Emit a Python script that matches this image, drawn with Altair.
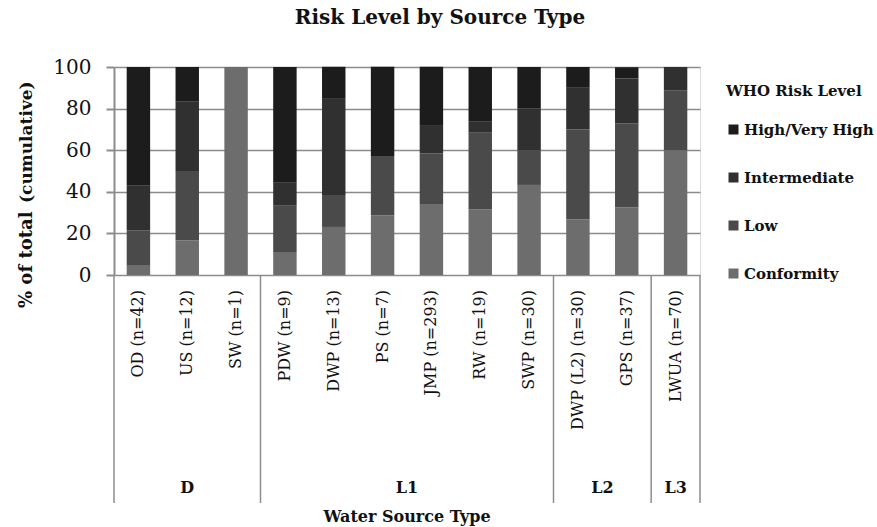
import altair as alt
import pandas as pd

# ---------------- data ----------------
sources = ["OD (n=42)", "US (n=12)", "SW (n=1)", "PDW (n=9)", "DWP (n=13)", "PS (n=7)",
           "JMP (n=293)", "RW (n=19)", "SWP (n=30)", "DWP (L2) (n=30)", "GPS (n=37)",
           "LWUA (n=70)"]
levels = ["High/Very High", "Intermediate", "Low", "Conformity"]
conformity = [4.8, 16.7, 100.0, 11.1, 23.1, 28.6, 33.8, 31.6, 43.3, 26.7, 32.4, 60.0]
low = [16.7, 33.3, 0.0, 22.2, 15.4, 28.6, 24.6, 36.8, 16.7, 43.3, 40.5, 28.6]
intermediate = [21.4, 33.3, 0.0, 11.1, 46.2, 0.0, 13.7, 5.3, 20.0, 20.0, 21.6, 11.4]
high = [57.1, 16.7, 0.0, 55.6, 15.4, 42.9, 28.0, 26.3, 20.0, 10.0, 5.4, 0.0]
groups = ["D", "L1", "L2", "L3"]
group_sizes = [3, 6, 2, 1]
y_ticks = [0, 20, 40, 60, 80, 100]

colors = ["#1c1c1c", "#303030", "#4a4a4a", "#6d6d6d"]
FONT = "DejaVu Serif"
GRAY = "#8c8c8c"

# ---------------- tables ----------------
series = {"Conformity": conformity, "Low": low, "Intermediate": intermediate,
          "High/Very High": high}
rank = {"Conformity": 0, "Low": 1, "Intermediate": 2, "High/Very High": 3}
rows = []
for lvl, vals in series.items():
    for i, (s, v) in enumerate(zip(sources, vals)):
        rows.append({"idx": i, "source": s, "level": lvl, "value": v, "rank": rank[lvl]})
df = pd.DataFrame(rows)

cats = pd.DataFrame({"idx": list(range(len(sources))), "source": sources})

starts, acc = [], 0
for g in group_sizes:
    starts.append(acc)
    acc += g
grp = pd.DataFrame({"group": groups, "start": starts, "size": group_sizes})
bounds = pd.DataFrame({"b": starts + [acc]})

xscale = alt.Scale(domain=[0, len(sources)], nice=False, zero=False)

bars = alt.Chart(df).transform_stack(
    stack="value", groupby=["idx"], as_=["y0", "y1"],
    sort=[alt.SortField("rank", order="ascending")]
).transform_calculate(
    x0="datum.idx + 0.26", x1="datum.idx + 0.74"
).mark_bar(strokeWidth=0).encode(
    x=alt.X("x0:Q", scale=xscale, axis=None),
    x2="x1:Q",
    y=alt.Y("y1:Q", scale=alt.Scale(domain=[0, 100], nice=False),
            axis=alt.Axis(values=y_ticks, title=None, grid=True, gridColor=GRAY,
                          gridWidth=1.5, domain=True, domainColor=GRAY, domainWidth=2,
                          ticks=True, tickColor=GRAY, tickWidth=2, tickSize=8,
                          labelFont=FONT, labelFontSize=20, labelColor="#111",
                          labelPadding=15)),
    y2="y0:Q",
    color=alt.Color("level:N", scale=alt.Scale(domain=levels, range=colors),
                    legend=alt.Legend(title="WHO Risk Level", orient="none",
                                      legendX=612, legendY=17,
                                      titleFont=FONT, titleFontSize=15,
                                      titleFontWeight="bold", titleColor="#111",
                                      titlePadding=23, labelFont=FONT,
                                      labelFontSize=15, labelFontWeight="bold",
                                      labelColor="#111", symbolType="square",
                                      symbolSize=100, symbolStrokeWidth=0,
                                      rowPadding=32, labelOffset=3)),
)

seps = alt.Chart(bounds).mark_rule(color=GRAY, strokeWidth=1.5).encode(
    x=alt.X("b:Q", scale=xscale), y=alt.value(208), y2=alt.value(436)
)

cat_labels = alt.Chart(cats).transform_calculate(c="datum.idx + 0.5").mark_text(
    angle=270, align="right", baseline="middle", font=FONT, fontSize=16,
    color="#111"
).encode(x=alt.X("c:Q", scale=xscale), y=alt.value(223), text="source:N")

grp_labels = alt.Chart(grp).transform_calculate(
    m="datum.start + datum.size / 2"
).mark_text(font=FONT, fontSize=16, fontWeight="bold", color="#111",
            baseline="middle").encode(
    x=alt.X("m:Q", scale=xscale), y=alt.value(421), text="group:N"
)

x_title = alt.Chart(pd.DataFrame({"t": ["Water Source Type"]})).mark_text(
    font=FONT, fontSize=16, fontWeight="bold", color="#111", baseline="middle"
).encode(x=alt.value(293), y=alt.value(450), text="t:N")

y_title1 = alt.Chart(pd.DataFrame({"t": ["% of total"]})).mark_text(
    font=FONT, fontSize=18, fontWeight="bold", color="#111", angle=270,
    align="left", baseline="alphabetic"
).encode(x=alt.value(-82), y=alt.value(241), text="t:N")

y_title2 = alt.Chart(pd.DataFrame({"t": ["(cumulative)"]})).mark_text(
    font=FONT, fontSize=17, fontWeight="bold", color="#111", angle=270,
    align="left", baseline="alphabetic"
).encode(x=alt.value(-82), y=alt.value(136), text="t:N")

chart = alt.layer(bars, seps, cat_labels, grp_labels, x_title, y_title1, y_title2).properties(
    width=586, height=208,
    title=alt.TitleParams("Risk Level by Source Type", font=FONT, fontSize=20,
                          fontWeight="bold", color="#111", anchor="middle",
                          dx=33, offset=29),
    autosize=alt.AutoSizeParams(type="none"),
    padding={"left": 114, "top": 67, "right": 177, "bottom": 252},
).configure_view(stroke=None).configure(background="white")

chart.save("out.html", embed_options={"renderer": "svg", "actions": False})
